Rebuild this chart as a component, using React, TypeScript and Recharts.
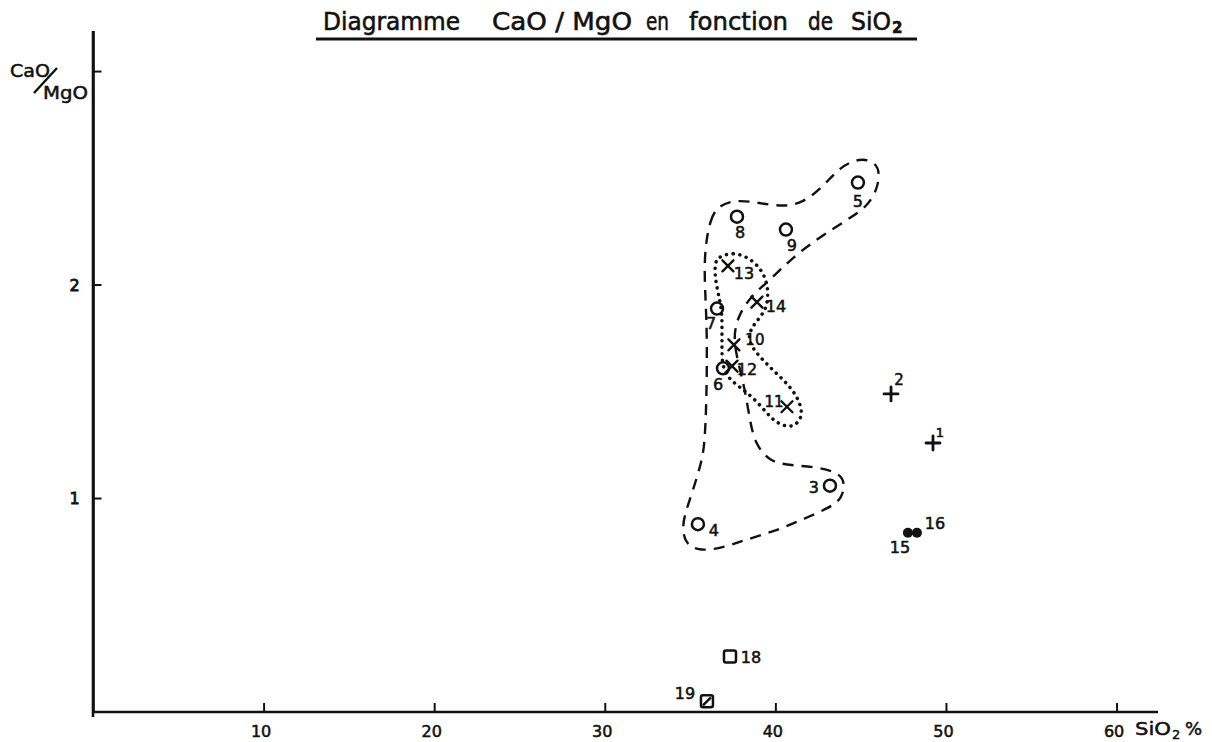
import React from 'react';
import { ScatterChart, Scatter, XAxis, YAxis } from 'recharts';

// ---- Data ----
const pointIds = ['1', '2', '3', '4', '5', '6', '7', '8', '9', '10', '11', '12', '13', '14', '15', '16', '18', '19'];
const sio2Values = [49.21, 46.75, 43.17, 35.43, 44.81, 36.9, 36.55, 37.72, 40.59, 37.54, 40.65, 37.43, 37.19, 38.89, 47.74, 48.27, 37.31, 35.96];
const caoMgoValues = [1.26, 1.49, 1.06, 0.88, 2.48, 1.61, 1.89, 2.32, 2.26, 1.72, 1.43, 1.62, 2.09, 1.92, 0.84, 0.84, 0.26, 0.05];
const markerKinds = ['plus', 'plus', 'circle', 'circle', 'circle', 'circle', 'circle', 'circle', 'circle', 'cross', 'cross', 'cross', 'cross', 'cross', 'dot', 'dot', 'square', 'squareSlash'];

const xTicks = [10, 20, 30, 40, 50, 60];
const yTicks = [1, 2, 3];
const yTickLabels: Record<number, string> = { 1: '1', 2: '2', 3: '' };

// dashed envelope (SiO2, CaO/MgO)
const dashedX = [35.73, 36.14, 36.72, 37.72, 39.02, 40.42, 41.59, 42.76, 43.76, 44.93, 45.81, 46.1, 45.93, 45.34, 44.17, 42.59, 41.0, 39.65, 38.48, 37.72, 37.49, 37.9, 38.19, 38.48, 38.77, 39.65, 41.0, 42.59, 43.76, 44.05, 43.87, 43.17, 41.82, 40.06, 38.07, 36.72, 35.55, 34.79, 34.49, 34.67, 35.14, 35.67, 35.85, 35.96, 35.96];
const dashedY = [2.117, 2.319, 2.376, 2.399, 2.385, 2.366, 2.385, 2.46, 2.554, 2.596, 2.577, 2.526, 2.446, 2.366, 2.305, 2.225, 2.131, 2.023, 1.944, 1.845, 1.742, 1.601, 1.507, 1.366, 1.258, 1.169, 1.155, 1.146, 1.117, 1.07, 1.0, 0.958, 0.911, 0.85, 0.803, 0.765, 0.756, 0.779, 0.85, 0.93, 1.038, 1.178, 1.272, 1.54, 1.85];

// dotted envelope
const dottedX = [36.61, 37.49, 38.48, 39.18, 39.48, 39.54, 39.48, 39.08, 38.6, 38.37, 38.6, 39.08, 39.83, 40.65, 41.29, 41.59, 41.29, 40.82, 40.06, 39.48, 38.66, 37.9, 37.13, 36.84, 36.84, 36.84, 36.84, 36.61, 36.43, 36.43];
const dottedY = [2.131, 2.155, 2.127, 2.07, 2.009, 1.962, 1.897, 1.85, 1.803, 1.756, 1.709, 1.662, 1.601, 1.54, 1.474, 1.399, 1.352, 1.333, 1.352, 1.399, 1.474, 1.521, 1.568, 1.634, 1.709, 1.789, 1.883, 1.962, 2.038, 2.103];

// label placement relative to marker (px): dx, dy, font size
const labelOffsets: Record<string, [number, number, number]> = {
  '1': [7, -11, 13], '2': [8, -14, 15], '3': [-16, 2, 16], '4': [16, 6, 16], '5': [0, 19, 16],
  '6': [-5, 16, 16], '7': [-6, 15, 16], '8': [3, 16, 16], '9': [6, 16, 16], '10': [21, -5, 15],
  '11': [-13, -5, 15], '12': [15, 3, 16], '13': [16, 8, 16], '14': [19, 4, 16], '15': [-8, 15, 16],
  '16': [18, -9, 16], '18': [21, 1, 16], '19': [-22, -8, 16],
};

const points = pointIds.map((id, i) => ({ id, x: sio2Values[i], y: caoMgoValues[i], kind: markerKinds[i] }));
const dashedData = dashedX.map((x, i) => ({ x, y: dashedY[i] }));
const dottedData = dottedX.map((x, i) => ({ x, y: dottedY[i] }));

const FONT = '"DejaVu Sans", "Liberation Sans", sans-serif';
const INK = '#111';
const TXT_STROKE = 0.55;

const Marker = (props: any) => {
  const { cx, cy, payload } = props;
  if (cx == null || cy == null || !payload) return <g />;
  const kind = payload.kind;
  const off = labelOffsets[payload.id] || [12, 0, 14];
  let mark: React.ReactNode = null;
  if (kind === 'circle') {
    mark = <circle cx={cx} cy={cy} r={6} fill="none" stroke={INK} strokeWidth={2.5} />;
  } else if (kind === 'cross') {
    mark = (
      <g stroke={INK} strokeWidth={2.4} strokeLinecap="round">
        <line x1={cx - 5.5} y1={cy - 5.5} x2={cx + 5.5} y2={cy + 5.5} />
        <line x1={cx - 5.5} y1={cy + 5.5} x2={cx + 5.5} y2={cy - 5.5} />
      </g>
    );
  } else if (kind === 'plus') {
    mark = (
      <g stroke={INK} strokeWidth={2.8} strokeLinecap="round">
        <line x1={cx - 7} y1={cy} x2={cx + 7} y2={cy} />
        <line x1={cx} y1={cy - 7} x2={cx} y2={cy + 7} />
      </g>
    );
  } else if (kind === 'dot') {
    mark = <circle cx={cx} cy={cy} r={5} fill={INK} />;
  } else if (kind === 'square') {
    mark = <rect x={cx - 6} y={cy - 6} width={12} height={12} rx={2} fill="none" stroke={INK} strokeWidth={2.5} />;
  } else if (kind === 'squareSlash') {
    mark = (
      <g stroke={INK} strokeWidth={2.5}>
        <rect x={cx - 6} y={cy - 6} width={12} height={12} rx={2} fill="none" />
        <line x1={cx - 4} y1={cy + 4} x2={cx + 4} y2={cy - 4} />
      </g>
    );
  }
  return (
    <g>
      {mark}
      <text x={cx + off[0]} y={cy + off[1]} fontSize={off[2]} fontFamily={FONT} fill={INK} stroke={INK} strokeWidth={TXT_STROKE} textAnchor="middle" dominantBaseline="central">
        {payload.id}
      </text>
    </g>
  );
};

const NoShape = () => <g />;

const XTick = (props: any) => {
  const { x, y, payload } = props;
  return (
    <g>
      <line x1={x} y1={y} x2={x} y2={y - 9} stroke={INK} strokeWidth={2} />
      <text x={x - 3} y={y + 19} fontSize={16} fontFamily={FONT} fill={INK} stroke={INK} strokeWidth={TXT_STROKE} textAnchor="middle" dominantBaseline="central">
        {payload.value}
      </text>
    </g>
  );
};

const YTick = (props: any) => {
  const { x, y, payload } = props;
  return (
    <g>
      <line x1={x} y1={y} x2={x + 8} y2={y} stroke={INK} strokeWidth={2} />
      <text x={x - 19} y={y} fontSize={16} fontFamily={FONT} fill={INK} stroke={INK} strokeWidth={0.8} textAnchor="middle" dominantBaseline="central">
        {yTickLabels[payload.value] ?? ''}
      </text>
    </g>
  );
};

export default function App() {
  return (
    <div style={{ position: 'absolute', left: 0, top: 0, width: 1212, height: 742, background: '#fff' }}>
      <ScatterChart width={1212} height={742} margin={{ top: 31, right: 54, bottom: 0, left: 0 }}>
        <XAxis
          type="number"
          dataKey="x"
          domain={[0, 62.4]}
          ticks={xTicks}
          allowDataOverflow
          height={30}
          tickSize={0}
          tickMargin={0}
          tickLine={false}
          axisLine={{ stroke: INK, strokeWidth: 2.6 }}
          tick={<XTick />}
          interval={0}
        />
        <YAxis
          type="number"
          dataKey="y"
          domain={[0, 3.19]}
          ticks={yTicks}
          allowDataOverflow
          width={93.5}
          tickSize={0}
          tickMargin={0}
          tickLine={false}
          axisLine={{ stroke: INK, strokeWidth: 2.6 }}
          tick={<YTick />}
          interval={0}
        />
        <Scatter
          data={dashedData}
          isAnimationActive={false}
          shape={<NoShape />}
          line={{ stroke: INK, strokeWidth: 2.4, strokeDasharray: '11 8', fill: 'none' }}
          lineJointType="basisClosed"
        />
        <Scatter
          data={dottedData}
          isAnimationActive={false}
          shape={<NoShape />}
          line={{ stroke: INK, strokeWidth: 3.5, strokeDasharray: '0.1 6.5', strokeLinecap: 'round', fill: 'none' }}
          lineJointType="basisClosed"
        />
        <Scatter data={points} isAnimationActive={false} shape={<Marker />} />
      </ScatterChart>
      <svg width={1212} height={742} style={{ position: 'absolute', left: 0, top: 0, pointerEvents: 'none' }}>
        <g fontFamily={FONT} fill={INK} stroke={INK} strokeWidth={0.6} fontSize={25}>
          <text x={323} y={30} textLength={137} lengthAdjust="spacingAndGlyphs">Diagramme</text>
          <text x={492} y={30} textLength={140} lengthAdjust="spacingAndGlyphs">CaO / MgO</text>
          <text x={646} y={30} textLength={23} lengthAdjust="spacingAndGlyphs">en</text>
          <text x={689} y={30} textLength={99} lengthAdjust="spacingAndGlyphs">fonction</text>
          <text x={808} y={30} textLength={25} lengthAdjust="spacingAndGlyphs">de</text>
          <text x={851} y={30} textLength={40} lengthAdjust="spacingAndGlyphs">SiO</text>
          <text x={892} y={33} fontSize={15} fontWeight="bold">2</text>
        </g>
        <line x1={316} y1={39} x2={917} y2={39} stroke={INK} strokeWidth={2.8} />
        <line x1={93} y1={31} x2={93} y2={717} stroke={INK} strokeWidth={2.6} />
        <g fontFamily={FONT} fill={INK} stroke={INK} strokeWidth={0.5} fontSize={18}>
          <text x={10} y={77} textLength={40} lengthAdjust="spacingAndGlyphs">CaO</text>
          <text x={43} y={99} textLength={45} lengthAdjust="spacingAndGlyphs">MgO</text>
          <text x={1135} y={735} textLength={36} lengthAdjust="spacingAndGlyphs">SiO</text>
          <text x={1172} y={739} fontSize={13}>2</text>
          <text x={1185} y={735}>%</text>
        </g>
        <line x1={34} y1={93} x2={57} y2={68} stroke={INK} strokeWidth={2.4} />
      </svg>
    </div>
  );
}
